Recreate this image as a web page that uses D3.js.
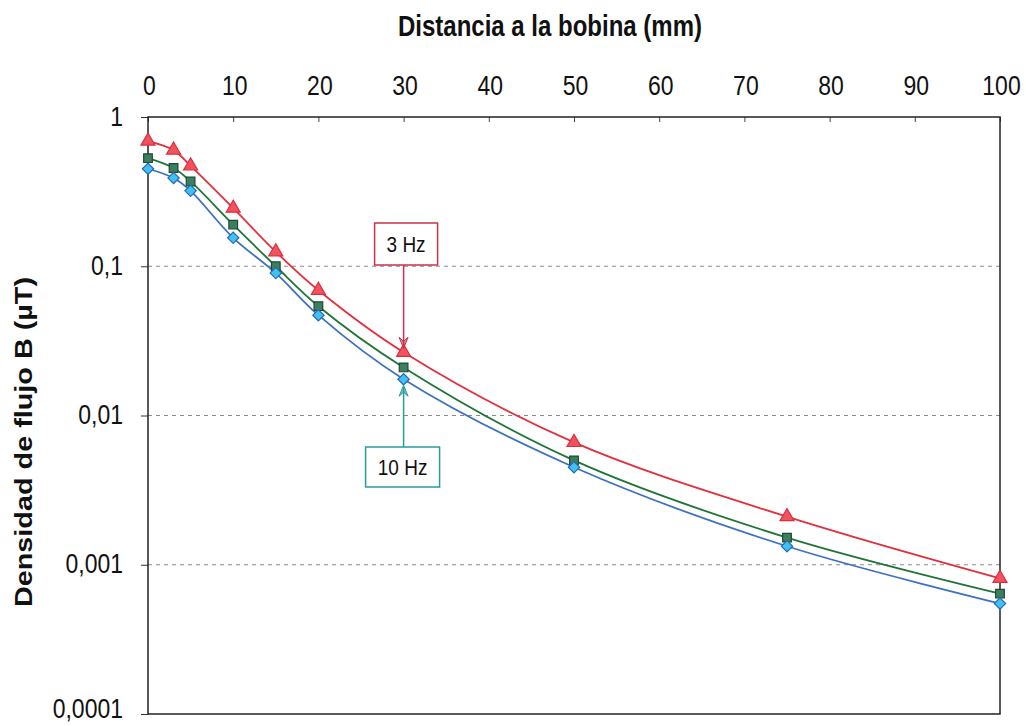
<!DOCTYPE html>
<html><head><meta charset="utf-8">
<script src="https://cdn.jsdelivr.net/npm/d3@7"></script>
<style>body{margin:0;background:#fff}svg{display:block}text{font-family:"Liberation Sans",Arial,sans-serif}</style>
</head><body><svg id="c" width="1026" height="726"></svg>
<script>
const distances = [0, 3, 5, 10, 15, 20, 30, 50, 75, 100];
const b3Hz  = [0.69, 0.60, 0.47, 0.245, 0.125, 0.069, 0.0265, 0.0066, 0.0021, 0.00081];
const bMid  = [0.53, 0.455, 0.37, 0.19, 0.10, 0.054, 0.021, 0.0050, 0.00152, 0.00064];
const b10Hz = [0.45, 0.39, 0.32, 0.155, 0.090, 0.047, 0.0175, 0.0045, 0.00133, 0.00055];
const xTicks = [0,10,20,30,40,50,60,70,80,90,100];
const yTicks = [1, 0.1, 0.01, 0.001, 0.0001];
const yTickLabels = ["1","0,1","0,01","0,001","0,0001"];

const svg = d3.select("#c");
const L=148, R=1000, T=117, B=714;
const SY = 1.2; // vertical stretch of the scanned text
const x = d3.scaleLinear().domain([0,100]).range([L,R]);
const y = d3.scaleLog().domain([0.0001,1]).range([B,T]);

// gridlines
svg.append("g").selectAll("line").data(yTicks.slice(1,4)).join("line")
  .attr("x1",L).attr("x2",R).attr("y1",d=>y(d)).attr("y2",d=>y(d))
  .attr("stroke","#8a8a8a").attr("stroke-width",1).attr("stroke-dasharray","4,4");

// top axis
const xAxis = d3.axisTop(x).tickValues(xTicks).tickSize(-5).tickFormat(d3.format("d"));
const gx = svg.append("g").attr("transform",`translate(0,${T})`).call(xAxis);
gx.select(".domain").remove();
gx.selectAll("line").attr("stroke","#444");
gx.selectAll("text").attr("font-size",23).attr("fill","#111")
  .attr("y",0).attr("dy",null).attr("transform",`translate(1,-22) scale(1,${SY})`);

// left axis
const yAxis = d3.axisLeft(y).tickValues(yTicks).tickSize(7).tickFormat((d,i)=>yTickLabels[i]);
const gy = svg.append("g").attr("transform",`translate(${L},0)`).call(yAxis);
gy.select(".domain").remove();
gy.selectAll("line").attr("stroke","#333");
gy.selectAll("text").attr("font-size",23).attr("fill","#111")
  .attr("x",0).attr("dy",null)
  .attr("transform",d=>`translate(-25,${d===0.0001?3:8}) scale(1,${SY})`);

// frame
svg.append("rect").attr("x",L).attr("y",T).attr("width",R-L).attr("height",B-T)
  .attr("fill","none").attr("stroke","#222").attr("stroke-width",1.5);

// titles
svg.append("text").attr("transform",`translate(550,36) scale(1,${SY})`).attr("text-anchor","middle")
  .attr("font-size",24).attr("font-weight","bold").attr("fill","#111").text("Distancia a la bobina (mm)");
svg.append("text").attr("transform",`translate(32,442) rotate(-90) scale(${SY},1)`).attr("text-anchor","middle")
  .attr("font-size",24).attr("font-weight","bold").attr("fill","#111").text("Densidad de flujo B (µT)");

const line = d3.line().x((d,i)=>x(distances[i])).y(d=>y(d)).curve(d3.curveCatmullRom.alpha(0.5));
const series = [
  {v:bMid, stroke:"#1f7438", fill:"#3c7f5e", ms:"#1d4a35", sym:d3.symbolSquare, size:75, rot:0},
  {v:b10Hz, stroke:"#3d72c2", fill:"#3fc2f0", ms:"#2b66b8", sym:d3.symbolSquare, size:64, rot:45},
  {v:b3Hz, stroke:"#e2303e", fill:"#f2525e", ms:"#d9303e", sym:d3.symbolTriangle, size:85, rot:0},
];
[series[1],series[0],series[2]].forEach(s=>{
  svg.append("path").attr("d",line(s.v)).attr("fill","none").attr("stroke",s.stroke).attr("stroke-width",1.8);
});
series.forEach(s=>{
  svg.append("g").selectAll("path").data(s.v).join("path")
    .attr("transform",(d,i)=>`translate(${x(distances[i])},${y(d)}) rotate(${s.rot})`)
    .attr("d",d3.symbol().type(s.sym).size(s.size)())
    .attr("fill",s.fill).attr("stroke",s.ms).attr("stroke-width",1.2);
});

// annotations
function arrowHead(g,xp,yp,dir,color){
  g.append("path").attr("d",`M${xp},${yp} L${xp-4.5},${yp-dir*11} L${xp},${yp-dir*7} L${xp+4.5},${yp-dir*11} Z`)
   .attr("fill",color).attr("fill-opacity",0.6).attr("stroke",color).attr("stroke-width",1);
}
const ax = x(30);
const red = "#c8324a", teal = "#2a9a9e";
const g1 = svg.append("g");
g1.append("rect").attr("x",ax-29).attr("y",223).attr("width",63).attr("height",42)
  .attr("fill","#fff").attr("stroke",red).attr("stroke-width",1.5);
g1.append("text").attr("transform",`translate(${ax+2.5},252) scale(1,${SY})`).attr("text-anchor","middle")
  .attr("font-size",19).attr("fill","#111").text("3 Hz");
g1.append("line").attr("x1",ax).attr("x2",ax).attr("y1",265).attr("y2",y(b3Hz[6])-6).attr("stroke",red).attr("stroke-width",1.5);
arrowHead(g1,ax,y(b3Hz[6])-4,1,red);

const g2 = svg.append("g");
g2.append("rect").attr("x",ax-38).attr("y",447).attr("width",74).attr("height",40)
  .attr("fill","#fff").attr("stroke",teal).attr("stroke-width",1.5);
g2.append("text").attr("transform",`translate(${ax-1},475) scale(1,${SY})`).attr("text-anchor","middle")
  .attr("font-size",19).attr("fill","#111").text("10 Hz");
g2.append("line").attr("x1",ax).attr("x2",ax).attr("y1",447).attr("y2",y(b10Hz[6])+8).attr("stroke",teal).attr("stroke-width",1.5);
arrowHead(g2,ax,y(b10Hz[6])+6,-1,teal);
</script></body></html>
